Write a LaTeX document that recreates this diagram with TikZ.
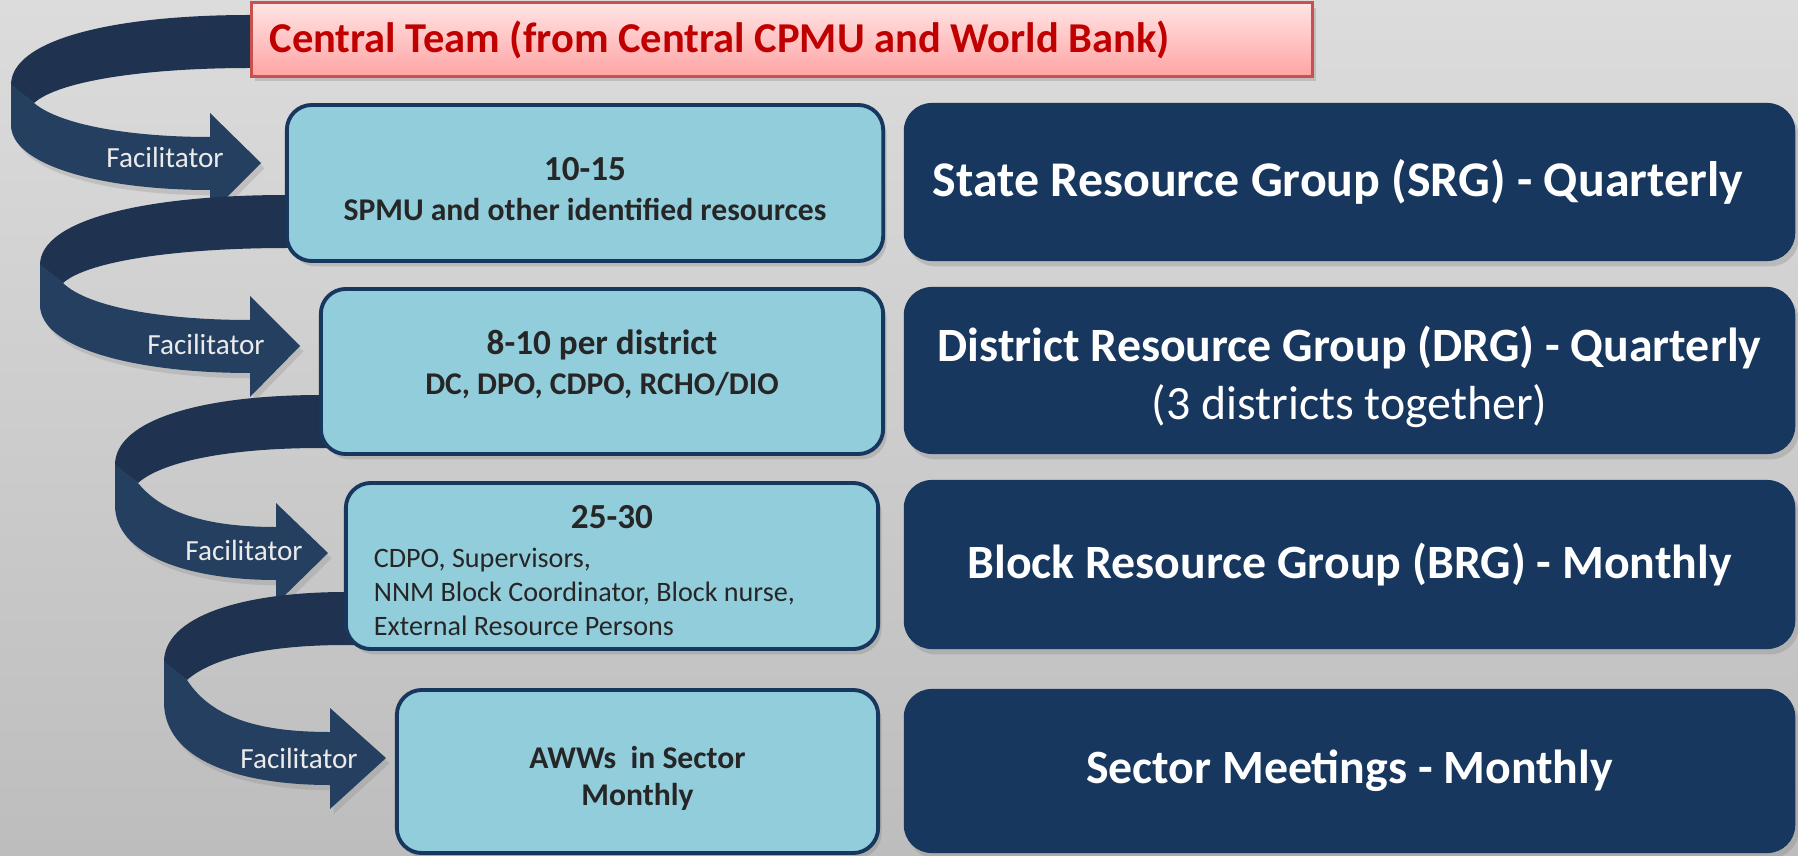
\documentclass[tikz,border=0pt]{standalone}
\usepackage{fontspec}
\setmainfont{Carlito}
\usetikzlibrary{
  shadows
}

\definecolor{navy}{HTML}{17375E}
\definecolor{ribfront}{HTML}{243F60}
\definecolor{ribback}{HTML}{1F3350}
\definecolor{aqua}{HTML}{92CDDC}
\definecolor{redtext}{HTML}{C00000}
\definecolor{redline}{HTML}{C9504D}
\definecolor{pinktop}{HTML}{FFE4E4}
\definecolor{pinkbot}{HTML}{FFA4A4}
\definecolor{bgtop}{HTML}{DCDCDC}
\definecolor{bgbot}{HTML}{BDBDBD}
\definecolor{txtgray}{HTML}{262626}

% #1 start x, #2 top y, #3 outer x, #4 head x, #5 shaft top y, #6 tip x
\newcommand{\facribbon}[6]{%
  \fill[ribback] (#1+40,#2) -- (#1,#2)
    .. controls ({#3+0.42*(#1-#3)},#2) and (#3,#2+25) .. (#3,#2+70)
    -- (#3+23,#2+88)
    .. controls (#3+49,#2+65) and ({#3+0.58*(#1-#3)},#2+53) .. (#1,#2+53)
    -- (#1+40,#2+53) -- cycle;
  \fill[ribfront, drop shadow={shadow xshift=1pt, shadow yshift=-1.5pt, opacity=0.25}]
    (#3,#2+69) -- (#3,#2+110)
    .. controls (#3,#5+28) and ({#3+0.45*(#4-#3)},#5+53) .. (#4,#5+53)
    -- (#4,#5+77) -- (#6,#5+26) -- (#4,#5-24) -- (#4,#5)
    .. controls ({#3+0.6*(#4-#3)},#5) and (#3+49,#5-12) .. (#3+23,#2+88)
    -- cycle;
}

\begin{document}
\begin{tikzpicture}[x=0.01cm, y=-0.01cm,
    cbox/.style = {shape=rectangle, draw=redline, line width=0.85pt,
      top color=pinktop, bottom color=pinkbot, text=redtext,
      font=\fontsize{12.1}{14}\selectfont\bfseries, align=flush left,
      text width=10.24cm, inner xsep=0.18cm, minimum height=0.73cm,
      drop shadow={shadow xshift=1pt, shadow yshift=-1.5pt, opacity=0.3}},
    lbox/.style = {shape=rectangle, rounded corners=0.25cm, draw=navy,
      line width=1.1pt, fill=aqua, text=txtgray, align=center,
      drop shadow={shadow xshift=1pt, shadow yshift=-1.5pt, opacity=0.3}},
    rbox/.style = {shape=rectangle, rounded corners=0.28cm, fill=navy,
      text=white, align=center, minimum width=8.91cm,
      font=\fontsize{13.6}{16.5}\selectfont\bfseries,
      drop shadow={shadow xshift=1pt, shadow yshift=-1.5pt, opacity=0.3}},
    faclab/.style = {text=white!92!black, font=\fontsize{8.3}{10}\selectfont}]

    \useasboundingbox (0,0) rectangle (1798,855);
    \fill[top color=bgtop, bottom color=bgbot] (0,0) rectangle (1798,855);

    % spiral of facilitator arrows
    \facribbon{250}{15}{11}{210}{137}{261}
    \facribbon{287}{195}{40}{250}{320}{300}
    \facribbon{321}{395}{115}{276}{527}{328}
    \facribbon{346}{592}{164}{330}{732}{386}

    \node[cbox, anchor=west] (cen) at (250,39.5)
      {Central Team (from Central CPMU and World Bank)};

    \node[lbox, minimum width=5.96cm, minimum height=1.56cm,
      font=\fontsize{9}{11.4}\selectfont\bfseries] (srgbox) at (585,183)
      {{\fontsize{10}{11.4}\selectfont\rule{0pt}{10pt}10-15}\\SPMU and other identified resources};
    \node[lbox, minimum width=5.62cm, minimum height=1.65cm,
      font=\fontsize{9}{11.4}\selectfont\bfseries] (drgbox) at (602,371.5)
      {{\fontsize{10}{11.4}\selectfont 8-10 per district}\\DC, DPO, CDPO, RCHO/DIO\rule[-5.5pt]{0pt}{1pt}};
    \node[lbox, minimum height=1.66cm, text width=4.76cm, inner xsep=0.28cm,
      align=flush left, font=\fontsize{8}{9.6}\selectfont] (brgbox) at (612,566)
      {\makebox[\linewidth]{\fontsize{10}{12}\selectfont\bfseries\rule{0pt}{9pt}25-30}\\[1.6pt]
       CDPO, Supervisors,\\NNM Block Coordinator, Block nurse,\\External Resource Persons};
    \node[lbox, minimum width=4.81cm, minimum height=1.63cm,
      font=\fontsize{9}{10.5}\selectfont\bfseries] (awwbox) at (637.5,771.5)
      {\rule{0pt}{10pt}AWWs\ \ in Sector\\Monthly};

    \node[rbox, minimum height=1.58cm, font=\fontsize{14.2}{16.5}\selectfont\bfseries]
      (srglab) at (1349.5,182) {State Resource Group (SRG) - Quarterly\hspace{6.6pt}};
    \node[rbox, minimum height=1.67cm] (drglab) at (1349.5,370.5)
      {\rule{0pt}{13.6pt}District Resource Group (DRG) - Quarterly\\{\mdseries (3 districts together)}};
    \node[rbox, minimum height=1.69cm] (brglab) at (1349.5,564.5)
      {Block Resource Group (BRG) - Monthly};
    \node[rbox, minimum height=1.64cm] (seclab) at (1349.5,771)
      {Sector Meetings - Monthly};

    \node[faclab] (fac1) at (165,157) {Facilitator};
    \node[faclab] (fac2) at (206,344) {Facilitator};
    \node[faclab] (fac3) at (244,550) {Facilitator};
    \node[faclab] (fac4) at (299,758) {Facilitator};
\end{tikzpicture}
\end{document}
